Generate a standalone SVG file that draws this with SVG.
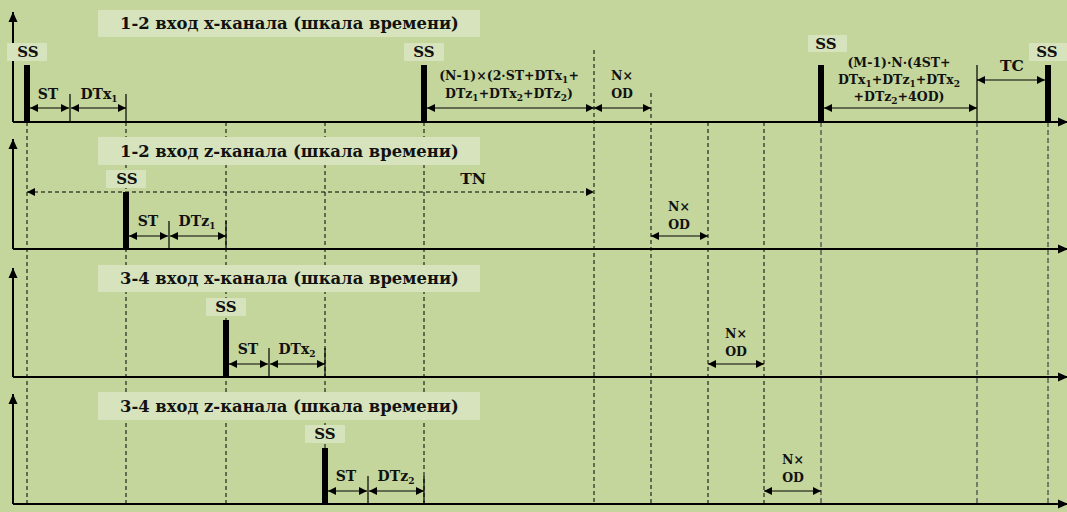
<svg xmlns="http://www.w3.org/2000/svg" width="1067" height="512" viewBox="0 0 1067 512">
  <style>
    .bg { fill: #c4d69c; }
    .lbox { fill: #d6e3bc; }
    .axis { stroke: #000; stroke-width: 2; fill: none; }
    .bar { fill: #000; }
    .tick { stroke: #000; stroke-width: 1.2; }
    .dim { stroke: #000; stroke-width: 1.2; fill: none; marker-start: url(#aL); marker-end: url(#aR); }
    .dimd { stroke: #000; stroke-width: 1.2; fill: none; stroke-dasharray: 4 3; marker-start: url(#aL); marker-end: url(#aR); }
    .grid { stroke: #000; stroke-width: 1; stroke-dasharray: 4 3; fill: none; }
    .grid2 { stroke: #555; stroke-width: 1.4; stroke-dasharray: 5 3; fill: none; }
    text { font-family: "DejaVu Serif", serif; font-weight: bold; fill: #111; }
    .title { font-size: 16.4px; }
    .ss { font-size: 15px; text-anchor: middle; }
    .lbl { font-size: 14px; text-anchor: middle; }
    .big { font-size: 15.5px; text-anchor: middle; }
    .frm { font-size: 12.5px; text-anchor: middle; }
    .sub { font-size: 9px; }
  </style>
  <defs>
    <marker id="aR" markerUnits="userSpaceOnUse" markerWidth="10" markerHeight="10" refX="8" refY="5" orient="auto">
      <path d="M0,1 L8,5 L0,9 Z" fill="#000"/>
    </marker>
    <marker id="aL" markerUnits="userSpaceOnUse" markerWidth="10" markerHeight="10" refX="0" refY="5" orient="auto">
      <path d="M8,1 L0,5 L8,9 Z" fill="#000"/>
    </marker>
    <marker id="ax" markerUnits="userSpaceOnUse" markerWidth="12" markerHeight="12" refX="10" refY="6" orient="auto">
      <path d="M0,1.5 L10,6 L0,10.5 Z" fill="#000"/>
    </marker>
  </defs>

  <rect class="bg" x="0" y="0" width="1067" height="512"/>

  <!-- vertical time grid shared by all four scales -->
  <g id="grid">
    <line class="grid" x1="27" y1="122" x2="27" y2="504"/>
    <line class="grid" x1="126" y1="122" x2="126" y2="504"/>
    <line class="grid" x1="226" y1="122" x2="226" y2="504"/>
    <line class="grid" x1="325" y1="122" x2="325" y2="504"/>
    <line class="grid" x1="424" y1="122" x2="424" y2="504"/>
    <line class="grid" x1="594" y1="50" x2="594" y2="504"/>
    <line class="grid" x1="651" y1="93" x2="651" y2="504"/>
    <line class="grid" x1="708" y1="122" x2="708" y2="504"/>
    <line class="grid" x1="764" y1="122" x2="764" y2="504"/>
    <line class="grid2" x1="821" y1="122" x2="821" y2="504"/>
    <line class="grid2" x1="977" y1="122" x2="977" y2="504"/>
    <line class="grid2" x1="1048" y1="122" x2="1048" y2="504"/>
  </g>

  <!-- scale 1: inputs 1-2, x channel -->
  <g id="scale-x12">
    <path class="axis" d="M13,122 V12" marker-end="url(#ax)"/>
    <path class="axis" d="M13,122 H1068" marker-end="url(#ax)"/>
    <rect class="lbox" x="98" y="10" width="382" height="27"/>
    <text class="title" x="120" y="29">1-2 вход x-канала (шкала времени)</text>
    <rect class="lbox" x="7" y="43" width="40" height="18"/>
    <text class="ss" x="28" y="57">SS</text>
    <rect class="bar" x="24" y="65" width="6" height="57"/>
    <rect class="lbox" x="404" y="43" width="40" height="18"/>
    <text class="ss" x="424" y="57">SS</text>
    <rect class="bar" x="421" y="65" width="6" height="57"/>
    <rect class="lbox" x="808" y="35" width="39" height="17"/>
    <text class="ss" x="826" y="49">SS</text>
    <rect class="bar" x="818" y="65" width="6" height="57"/>
    <rect class="lbox" x="1029" y="43" width="38" height="18"/>
    <text class="ss" x="1047" y="57">SS</text>
    <rect class="bar" x="1045" y="65" width="6" height="57"/>
    <line class="tick" x1="70" y1="94" x2="70" y2="122"/>
    <line class="tick" x1="126" y1="94" x2="126" y2="122"/>
    <line class="tick" x1="977" y1="65" x2="977" y2="122"/>
    <text class="lbl" x="48" y="99">ST</text>
    <text class="lbl" x="99" y="99">DTx<tspan class="sub" dy="3">1</tspan></text>
    <text class="frm" x="509" y="80">(N-1)×(2·ST+DTx<tspan class="sub" dy="3">1</tspan><tspan dy="-3">+</tspan></text>
    <text class="frm" x="509" y="98">DTz<tspan class="sub" dy="3">1</tspan><tspan dy="-3">+DTx</tspan><tspan class="sub" dy="3">2</tspan><tspan dy="-3">+DTz</tspan><tspan class="sub" dy="3">2</tspan><tspan dy="-3">)</tspan></text>
    <text class="frm" x="622" y="80">N×</text>
    <text class="frm" x="622" y="98">OD</text>
    <text class="frm" x="899" y="67">(M-1)·N·(4ST+</text>
    <text class="frm" x="899" y="84">DTx<tspan class="sub" dy="3">1</tspan><tspan dy="-3">+DTz</tspan><tspan class="sub" dy="3">1</tspan><tspan dy="-3">+DTx</tspan><tspan class="sub" dy="3">2</tspan></text>
    <text class="frm" x="899" y="101">+DTz<tspan class="sub" dy="3">2</tspan><tspan dy="-3">+4OD)</tspan></text>
    <text class="big" x="1012" y="71">TC</text>
  </g>

  <!-- scale 2: inputs 1-2, z channel -->
  <g id="scale-z12">
    <path class="axis" d="M13,249 V139" marker-end="url(#ax)"/>
    <path class="axis" d="M13,249 H1068" marker-end="url(#ax)"/>
    <rect class="lbox" x="98" y="137" width="382" height="28"/>
    <text class="title" x="120" y="157">1-2 вход z-канала (шкала времени)</text>
    <rect class="lbox" x="106" y="170" width="40" height="18"/>
    <text class="ss" x="127" y="184">SS</text>
    <rect class="bar" x="123" y="192" width="6" height="57"/>
    <line class="tick" x1="169" y1="221" x2="169" y2="249"/>
    <line class="tick" x1="226" y1="221" x2="226" y2="249"/>
    <text class="lbl" x="148" y="226">ST</text>
    <text class="lbl" x="197" y="226">DTz<tspan class="sub" dy="3">1</tspan></text>
    <text class="big" x="473" y="184">TN</text>
    <text class="frm" x="679" y="211">N×</text>
    <text class="frm" x="679" y="229">OD</text>
  </g>

  <!-- scale 3: inputs 3-4, x channel -->
  <g id="scale-x34">
    <path class="axis" d="M13,377 V268" marker-end="url(#ax)"/>
    <path class="axis" d="M13,377 H1068" marker-end="url(#ax)"/>
    <rect class="lbox" x="98" y="265" width="382" height="27"/>
    <text class="title" x="120" y="284">3-4 вход x-канала (шкала времени)</text>
    <rect class="lbox" x="206" y="298" width="40" height="18"/>
    <text class="ss" x="226" y="312">SS</text>
    <rect class="bar" x="223" y="320" width="6" height="57"/>
    <line class="tick" x1="269" y1="348" x2="269" y2="377"/>
    <line class="tick" x1="325" y1="348" x2="325" y2="377"/>
    <text class="lbl" x="248" y="354">ST</text>
    <text class="lbl" x="297" y="354">DTx<tspan class="sub" dy="3">2</tspan></text>
    <text class="frm" x="736" y="338">N×</text>
    <text class="frm" x="736" y="356">OD</text>
  </g>

  <!-- scale 4: inputs 3-4, z channel -->
  <g id="scale-z34">
    <path class="axis" d="M13,504 V394" marker-end="url(#ax)"/>
    <path class="axis" d="M13,504 H1068" marker-end="url(#ax)"/>
    <rect class="lbox" x="98" y="392" width="382" height="28"/>
    <text class="title" x="120" y="412">3-4 вход z-канала (шкала времени)</text>
    <rect class="lbox" x="305" y="425" width="40" height="18"/>
    <text class="ss" x="325" y="439">SS</text>
    <rect class="bar" x="322" y="448" width="6" height="56"/>
    <line class="tick" x1="368" y1="476" x2="368" y2="504"/>
    <line class="tick" x1="424" y1="476" x2="424" y2="504"/>
    <text class="lbl" x="346" y="481">ST</text>
    <text class="lbl" x="396" y="481">DTz<tspan class="sub" dy="3">2</tspan></text>
    <text class="frm" x="793" y="464">N×</text>
    <text class="frm" x="793" y="482">OD</text>
  </g>

  <!-- interval arrows -->
  <g id="connectors">
    <line class="dim" x1="30" y1="108" x2="69" y2="108"/>
    <line class="dim" x1="71" y1="108" x2="126" y2="108"/>
    <line class="dim" x1="427" y1="108" x2="594" y2="108"/>
    <line class="dim" x1="594" y1="108" x2="651" y2="108"/>
    <line class="dim" x1="824" y1="108" x2="977" y2="108"/>
    <line class="dim" x1="977" y1="80" x2="1045" y2="80"/>
    <line class="dimd" x1="27" y1="192" x2="594" y2="192"/>
    <line class="dim" x1="129" y1="236" x2="168" y2="236"/>
    <line class="dim" x1="170" y1="236" x2="226" y2="236"/>
    <line class="dim" x1="651" y1="236" x2="708" y2="236"/>
    <line class="dim" x1="229" y1="364" x2="268" y2="364"/>
    <line class="dim" x1="270" y1="364" x2="325" y2="364"/>
    <line class="dim" x1="708" y1="364" x2="764" y2="364"/>
    <line class="dim" x1="328" y1="491" x2="367" y2="491"/>
    <line class="dim" x1="369" y1="491" x2="424" y2="491"/>
    <line class="dim" x1="764" y1="491" x2="821" y2="491"/>
  </g>
</svg>
